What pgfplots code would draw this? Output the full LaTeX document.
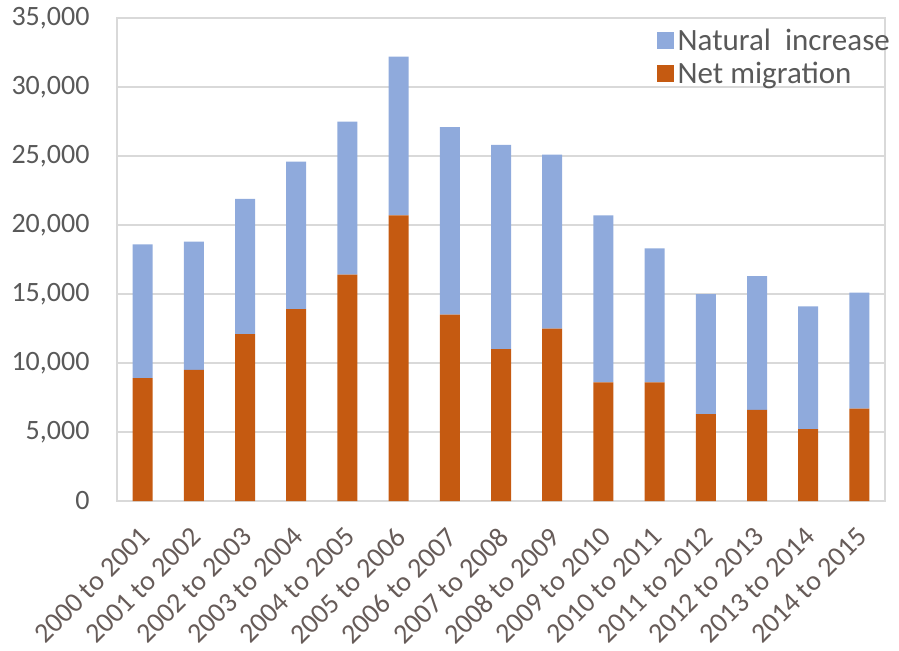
\documentclass[border=0pt]{standalone}
\usepackage{pgfplots}
\pgfplotsset{compat=1.18}
\usepackage{fontspec}
\setmainfont{Carlito}

\definecolor{migr}{HTML}{C55A11}
\definecolor{natinc}{HTML}{8FAADC}
\definecolor{txtgrey}{HTML}{595959}
\definecolor{xlabgrey}{HTML}{665B58}
\definecolor{gridgrey}{HTML}{D9D9D9}

\begin{document}
\begin{tikzpicture}
\begin{axis}[
  scale only axis,
  width=768pt, height=483pt,
  ybar stacked,
  bar width=20pt,
  xmin=-0.5, xmax=14.5,
  ymin=0, ymax=35000,
  ytick={0,5000,...,35000},
  xtick={0,...,14},
  xticklabels={2000 to 2001,2001 to 2002,2002 to 2003,2003 to 2004,2004 to 2005,2005 to 2006,2006 to 2007,2007 to 2008,2008 to 2009,2009 to 2010,2010 to 2011,2011 to 2012,2012 to 2013,2013 to 2014,2014 to 2015},
  xticklabel style={rotate=45, anchor=east, font=\fontsize{28}{33}\selectfont, text=xlabgrey, xshift=-17pt, yshift=-24pt},
  yticklabel style={font=\fontsize{28}{33}\selectfont, text=txtgrey, xshift=-24pt},
  /pgf/number format/assume math mode=true,
  /pgf/number format/.cd, 1000 sep={,}, fixed,
  /pgfplots/.cd,
  scaled y ticks=false,
  major tick length=0pt,
  ymajorgrids,
  grid style={gridgrey, line width=1.5pt},
  axis line style={gridgrey, line width=1.5pt},
  legend style={draw=none, fill=none, at={(rel axis cs:1,1)}, anchor=north east,
    xshift=10pt, yshift=-7pt,
    font=\fontsize{31}{36}\selectfont, text=txtgrey,
    row sep=6pt, cells={anchor=west},
    /tikz/every even column/.append style={column sep=0pt}},
  legend image code/.code={\fill[#1,draw=none] (0pt,-8.5pt) rectangle (17pt,8.5pt);},
  legend cell align=left,
  reverse legend,
]
\addplot[fill=migr, draw=none] coordinates {
  (0,8900) (1,9500) (2,12100) (3,13900) (4,16400) (5,20700) (6,13500) (7,11000)
  (8,12500) (9,8600) (10,8600) (11,6300) (12,6600) (13,5200) (14,6700)};
\addlegendentry{\hspace{2pt}Net migration}
\addplot[fill=natinc, draw=none] coordinates {
  (0,9700) (1,9300) (2,9800) (3,10700) (4,11100) (5,11500) (6,13600) (7,14800)
  (8,12600) (9,12100) (10,9700) (11,8700) (12,9700) (13,8900) (14,8400)};
\addlegendentry{\hspace{2pt}Natural\ \ increase}
\end{axis}
\path (current axis.south west) ++(-117pt,-147pt) rectangle ++(899pt,648pt);
\end{tikzpicture}
\end{document}
